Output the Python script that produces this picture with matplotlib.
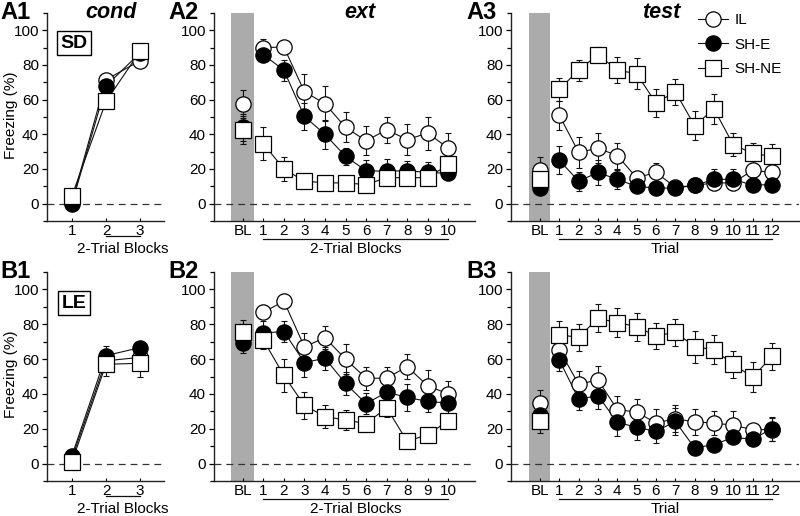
import matplotlib
matplotlib.use("Agg")
import matplotlib.pyplot as plt
import numpy as np
from matplotlib.transforms import blended_transform_factory
from matplotlib.lines import Line2D

plt.rcParams['font.family'] = ['Liberation Sans', 'DejaVu Sans']

groups = ["IL", "SH-E", "SH-NE"]

# ---------------- Row A (SD) ----------------
a1_x = [1, 2, 3]
a1_IL = [1, 71.5, 82.5]
a1_IL_sem = [2, 3, 3]
a1_SHE = [0, 68, 87]
a1_SHE_sem = [2, 3, 3]
a1_SHNE = [4.5, 59, 88]
a1_SHNE_sem = [2, 4, 4]

a2_x = list(range(1, 11))
a2_bl = [57.7, 44, 42.6]
a2_bl_sem = [8, 8, 8]
a2_IL = [90, 90.4, 64.6, 57.7, 44, 36.3, 42.6, 37, 40.7, 32]
a2_IL_sem = [5, 3, 10, 10, 8.6, 8.5, 7.5, 9, 9.5, 8.7]
a2_SHE = [86, 77, 50.3, 40, 27.3, 19, 18.7, 19, 18, 17.5]
a2_SHE_sem = [3, 6, 7.7, 8.5, 5, 6.4, 7, 5.5, 6, 4]
a2_SHNE = [34.6, 20, 13, 12, 12, 11, 15, 15, 15, 22.6]
a2_SHNE_sem = [9.5, 7, 3, 3, 3, 3, 3, 3, 3, 3]

a3_x = list(range(1, 13))
a3_bl = [19.7, 9, 14]
a3_bl_sem = [7, 3, 4]
a3_IL = [51, 29.6, 32, 27.7, 15, 18, 9.5, 10.5, 12, 12, 19.3, 18]
a3_IL_sem = [8.5, 8.8, 8.7, 7.5, 3.5, 5.5, 2, 2, 2, 2, 4.2, 3]
a3_SHE = [25, 13, 18, 14, 10, 9, 9, 10.5, 14, 14, 10.7, 11]
a3_SHE_sem = [8, 5.5, 7, 5.5, 2, 2, 2, 2, 6, 6, 2, 2]
a3_SHNE = [66, 77, 86, 77, 75, 58, 64.6, 45, 54.7, 34, 29, 27.3]
a3_SHNE_sem = [6.5, 6, 4.5, 7.5, 9, 8, 7.5, 8.3, 8.5, 6.5, 6, 7]

# ---------------- Row B (LE) ----------------
b1_x = [1, 2, 3]
b1_IL = [3, 59, 61]
b1_IL_sem = [2, 4, 4]
b1_SHE = [4.5, 62, 66.6]
b1_SHE_sem = [2, 5.5, 3]
b1_SHNE = [1, 57, 57.6]
b1_SHNE_sem = [2, 6.5, 8]

b2_x = list(range(1, 11))
b2_bl = [73, 69, 75.8]
b2_bl_sem = [6, 5.5, 6.5]
b2_IL = [86.8, 93.3, 67, 72.3, 60, 49, 49, 55.7, 44.6, 40]
b2_IL_sem = [4, 4, 8, 6.7, 8.5, 6.7, 6.7, 7.1, 9.4, 7.5]
b2_SHE = [75, 75.8, 58, 60.5, 46, 34.4, 41, 38, 35.7, 34.7]
b2_SHE_sem = [7, 6.2, 8, 6.5, 6.5, 6, 7.5, 7.6, 6.3, 6]
b2_SHNE = [71, 50.6, 33.4, 27, 25, 23, 32, 12.8, 16.6, 24.6]
b2_SHNE_sem = [5, 9.4, 7.8, 6.8, 6, 4, 5, 3, 3, 4]

b3_x = list(range(1, 13))
b3_bl = [34.7, 28, 24.2]
b3_bl_sem = [7.7, 5, 6.6]
b3_IL = [65.3, 45.6, 48, 31, 29.6, 23.3, 25.8, 23.9, 23.3, 22, 19.5, 19.5]
b3_IL_sem = [4, 7.4, 8, 8, 7.4, 8.2, 7.6, 7.6, 6.7, 8, 3, 6.5]
b3_SHE = [59.5, 37, 39, 23.7, 20.8, 18.5, 24.2, 9, 10.9, 15, 14, 20]
b3_SHE_sem = [6.5, 6, 7.7, 7.7, 7.4, 6.7, 7.6, 2, 2, 3, 3, 7]
b3_SHNE = [73.9, 72.5, 83.4, 81, 78.6, 73.3, 75.4, 67.2, 65.3, 57, 49.6, 61.5]
b3_SHNE_sem = [8, 7.8, 8, 8.6, 8, 7.7, 7.9, 9.2, 8.4, 7.8, 8.5, 7.8]

styles = {
    "IL": dict(marker='o', mfc='white', mec='black'),
    "SH-E": dict(marker='o', mfc='black', mec='black'),
    "SH-NE": dict(marker='s', mfc='white', mec='black'),
}
MS = 11
FS = 11
BLACK = '#111111'
W, H = 800, 516
fig = plt.figure(figsize=(8.0, 5.16), dpi=100)


def fx(px):
    return px / W


def fy(py):
    return 1 - py / H


def add_ax(left, top, right, bottom):
    return fig.add_axes([fx(left), fy(bottom), fx(right) - fx(left), (bottom - top) / H])


def style_ax(ax, xlim, ticks, ticklabels):
    ax.set_ylim(-10, 110)
    ax.set_xlim(*xlim)
    for s in ['top', 'right']:
        ax.spines[s].set_visible(False)
    for s in ['left', 'bottom']:
        ax.spines[s].set_linewidth(1.0)
        ax.spines[s].set_color('#222222')
    ax.set_yticks([0, 20, 40, 60, 80, 100])
    ax.set_yticks([-10, 10, 30, 50, 70, 90, 110], minor=True)
    ax.tick_params(axis='y', which='major', direction='out', length=3.8, width=0.9,
                   labelsize=FS, pad=2)
    ax.tick_params(axis='y', which='minor', direction='out', length=3.0, width=0.9)
    ax.set_xticks(ticks)
    ax.set_xticklabels(ticklabels)
    ax.tick_params(axis='x', which='major', direction='in', length=2.5, width=0.8,
                   labelsize=FS, pad=2)
    ax.tick_params(axis='x', which='minor', length=0)
    ax.axhline(0, color='#333333', lw=0.9, ls=(0, (5.5, 4)), zorder=1.5)


def draw_series(ax, x, data, sems, connect=True):
    for i, g in enumerate(groups):
        y = data[i]
        e = sems[i]
        ax.errorbar(x, y, yerr=e, fmt='none', ecolor=BLACK, elinewidth=0.8,
                    capsize=2.2, capthick=0.8, zorder=2)
        if connect:
            ax.plot(x, y, '-', color=BLACK, lw=0.8, zorder=2.5)
        ax.plot(x, y, ls='none', ms=MS, mew=0.9, zorder=3 + i, **styles[g])


def draw_bl(ax, bl, bl_sem):
    ax.axvspan(-0.57, 0.53, color='#ababab', lw=0, zorder=1)
    for i, g in enumerate(groups):
        ax.errorbar([0], [bl[i]], yerr=[bl_sem[i]], fmt='none', ecolor=BLACK,
                    elinewidth=0.8, capsize=2.2, capthick=0.8, zorder=2)
        ax.plot([0], [bl[i]], ls='none', ms=MS, mew=0.9, zorder=3 + i, **styles[g])


def underline(ax, x0, x1, label, off_line=18, off_text=28):
    trans = blended_transform_factory(ax.transData, ax.transAxes)
    h = ax.get_position().height * H
    ax.plot([x0, x1], [-off_line / h] * 2, color=BLACK, lw=0.9, transform=trans,
            clip_on=False)
    ax.text((x0 + x1) / 2, -off_text / h, label, transform=trans, ha='center',
            va='center', fontsize=FS)


rows = [
    dict(top=13, bottom=221, tag='A', box='SD', boxy=43,
         c1=(a1_x, [a1_IL, a1_SHE, a1_SHNE], [a1_IL_sem, a1_SHE_sem, a1_SHNE_sem]),
         c2=(a2_x, [a2_IL, a2_SHE, a2_SHNE], [a2_IL_sem, a2_SHE_sem, a2_SHNE_sem], a2_bl, a2_bl_sem),
         c3=(a3_x, [a3_IL, a3_SHE, a3_SHNE], [a3_IL_sem, a3_SHE_sem, a3_SHNE_sem], a3_bl, a3_bl_sem)),
    dict(top=272, bottom=481, tag='B', box='LE', boxy=303,
         c1=(b1_x, [b1_IL, b1_SHE, b1_SHNE], [b1_IL_sem, b1_SHE_sem, b1_SHNE_sem]),
         c2=(b2_x, [b2_IL, b2_SHE, b2_SHNE], [b2_IL_sem, b2_SHE_sem, b2_SHNE_sem], b2_bl, b2_bl_sem),
         c3=(b3_x, [b3_IL, b3_SHE, b3_SHNE], [b3_IL_sem, b3_SHE_sem, b3_SHNE_sem], b3_bl, b3_bl_sem)),
]

for r in rows:
    top, bottom = r['top'], r['bottom']
    # column 1
    ax1 = add_ax(47, top, 164, bottom)
    x, d, s = r['c1']
    style_ax(ax1, (0.27, 3.7), x, [str(v) for v in x])
    draw_series(ax1, x, d, s)
    underline(ax1, 2, 3, '2-Trial Blocks', off_line=15)
    ax1.text(fx(74), fy(r['boxy']), r['box'], transform=fig.transFigure, ha='center',
             va='center', fontsize=14, fontweight='bold',
             bbox=dict(boxstyle='square,pad=0.2', fc='white', ec='black', lw=1.0))
    # column 2
    ax2 = add_ax(214, top, 475, bottom)
    x, d, s, bl, bls = r['c2']
    style_ax(ax2, (-1.4, 11.3), [0] + x, ['BL'] + [str(v) for v in x])
    draw_bl(ax2, bl, bls)
    draw_series(ax2, x, d, s)
    underline(ax2, 1, 10, '2-Trial Blocks')
    # column 3
    ax3 = add_ax(511, top, 799, bottom)
    x, d, s, bl, bls = r['c3']
    style_ax(ax3, (-1.5, 13.4), [0] + x, ['BL'] + [str(v) for v in x])
    draw_bl(ax3, bl, bls)
    draw_series(ax3, x, d, s)
    underline(ax3, 1, 12, 'Trial')

    # panel tags
    ty = top - 12
    fig.text(fx(0), fy(ty), r['tag'] + '1', ha='left', va='top', fontsize=17, fontweight='bold')
    fig.text(fx(168), fy(ty), r['tag'] + '2', ha='left', va='top', fontsize=17, fontweight='bold')
    fig.text(fx(466), fy(ty), r['tag'] + '3', ha='left', va='top', fontsize=17, fontweight='bold')
    # y label
    fig.text(fx(11), fy((top + bottom) / 2 - 2), 'Freezing (%)', rotation=90, ha='center',
             va='center', fontsize=FS)

    if r['tag'] == 'A':
        handles = [Line2D([0], [0], color=BLACK, lw=0.8, ms=MS, mew=0.9, **styles[g]) for g in groups]
        ax3.legend(handles, groups, loc='upper right', bbox_to_anchor=(0.94, 1.0),
                   frameon=False, fontsize=FS, handlelength=2.0, handletextpad=0.4,
                   labelspacing=0.7, borderpad=0, borderaxespad=0)

# titles
fig.text(fx(111), fy(13), 'cond', ha='center', va='center', fontsize=15.5,
         fontweight='bold', fontstyle='italic')
fig.text(fx(360), fy(13), 'ext', ha='center', va='center', fontsize=15.5,
         fontweight='bold', fontstyle='italic')
fig.text(fx(661), fy(13), 'test', ha='center', va='center', fontsize=15.5,
         fontweight='bold', fontstyle='italic')

fig.savefig('out.png', dpi=100)
